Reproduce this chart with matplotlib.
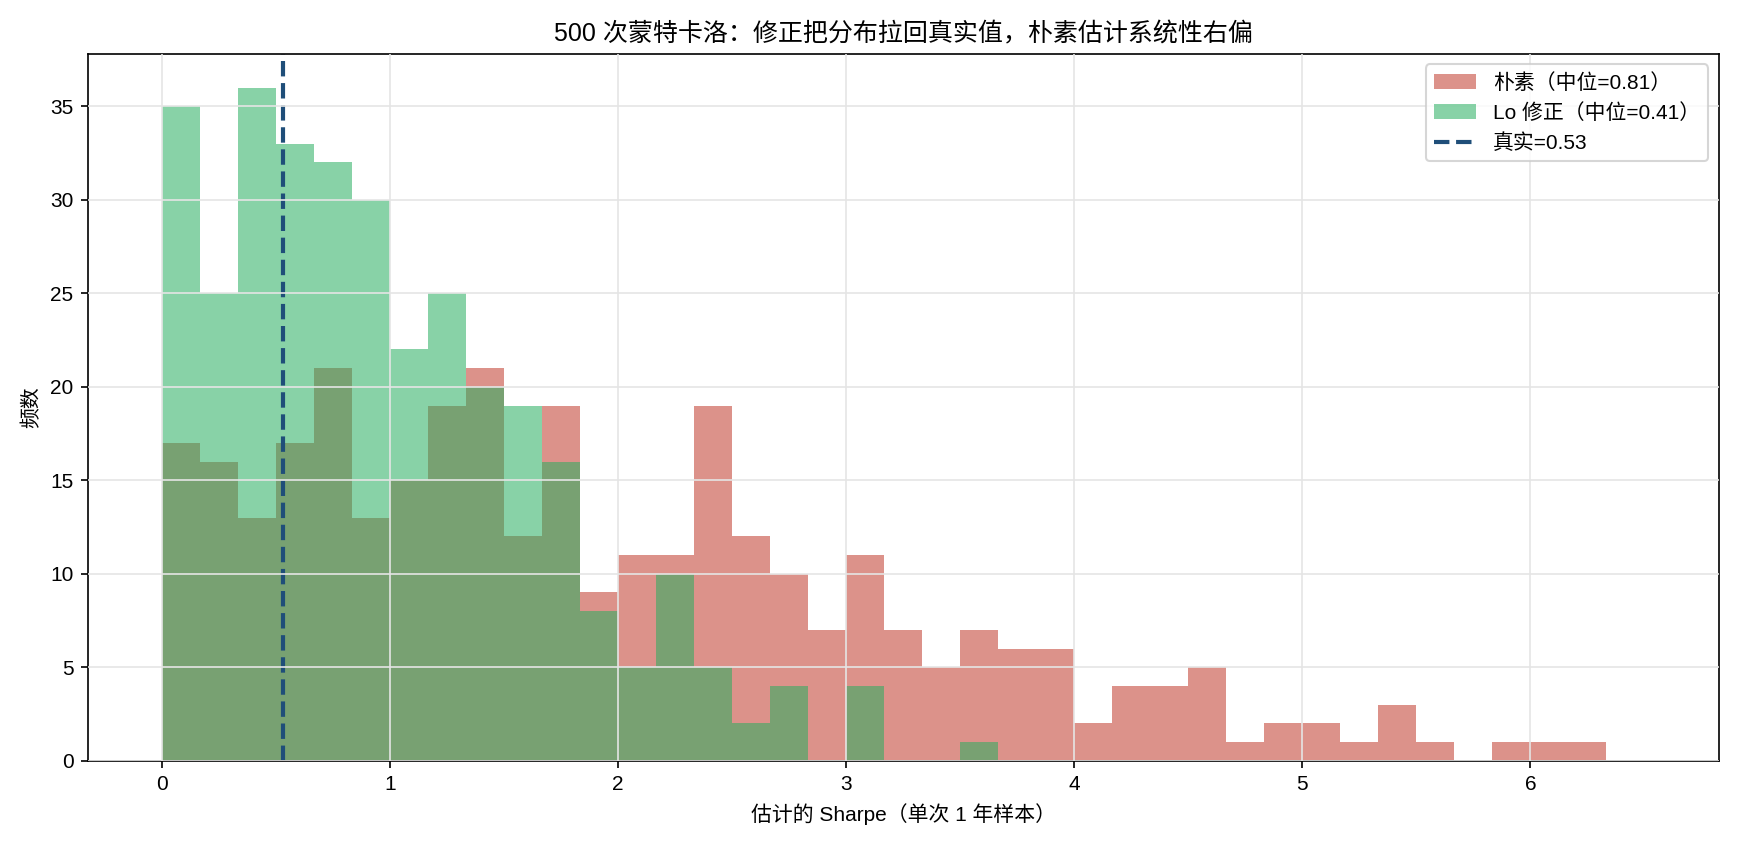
import numpy as np
import matplotlib
matplotlib.use("Agg")
import matplotlib.pyplot as plt

plt.rcParams['font.family'] = ['Liberation Sans', 'Noto Sans CJK SC', 'DejaVu Sans']
plt.rcParams['axes.unicode_minus'] = False

bin_width = 1/6
n_bins = 39
naive_counts = [17,16,13,17,21,13,15,19,21,12,19,9,11,11,19,12,10,7,11,7,5,7,6,6,2,4,4,5,1,2,2,1,3,1,0,1,1,1,0]
lo_counts = [35,25,36,33,32,30,22,25,20,19,16,8,5,10,5,2,4,0,4,0,0,1,0,0,0,0,0,0,0,0,0,0,0,0,0,0,0,0,0]
naive_median = 0.81
lo_median = 0.41
true_sr = 0.53

edges = np.arange(n_bins + 1) * bin_width
centers = (edges[:-1] + edges[1:]) / 2

fig, ax = plt.subplots(figsize=(11.607, 5.647), dpi=150)
ax.hist(centers, bins=edges, weights=naive_counts, color='#c0392b', alpha=0.55,
        label=f'朴素（中位={naive_median:.2f}）')
ax.hist(centers, bins=edges, weights=lo_counts, color='#27ae60', alpha=0.55,
        label=f'Lo 修正（中位={lo_median:.2f}）')
ax.axvline(true_sr, color='#1f4e79', linestyle='--', linewidth=2, label=f'真实={true_sr:.2f}')
ax.set_title('500 次蒙特卡洛：修正把分布拉回真实值，朴素估计系统性右偏', fontsize=12)
ax.set_xlabel('估计的 Sharpe（单次 1 年样本）')
ax.set_ylabel('频数')
ax.grid(True, color='#e5e5e5', linewidth=0.8)
ax.set_axisbelow(False)
ax.legend(loc='upper right')
fig.tight_layout()
fig.savefig('out.png', dpi=150)
